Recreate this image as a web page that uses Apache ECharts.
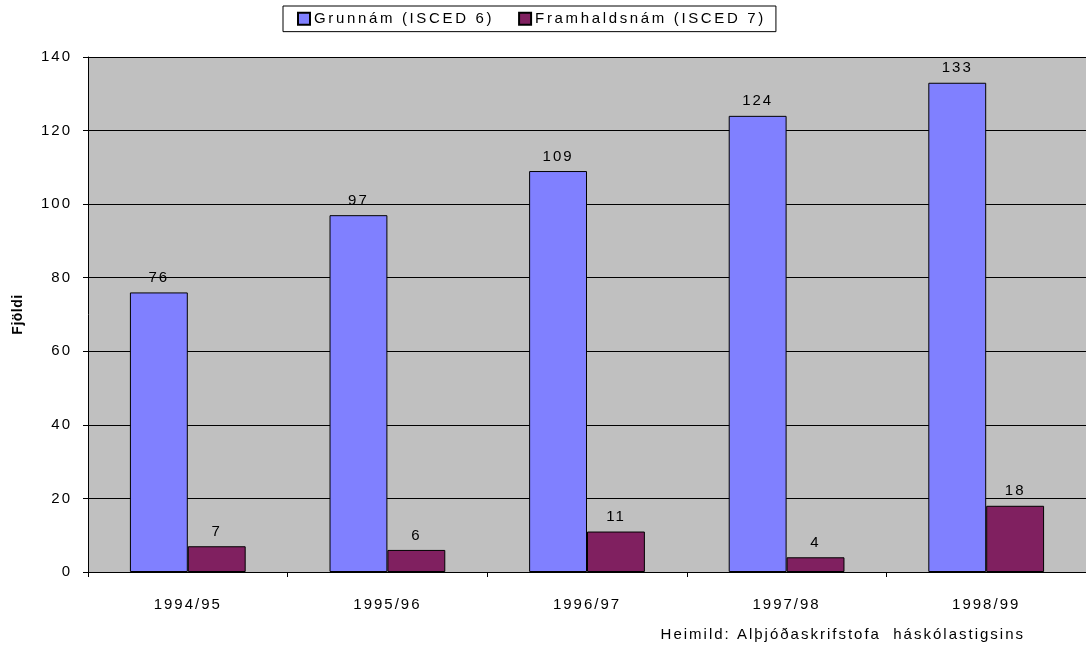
<!DOCTYPE html>
<html><head><meta charset="utf-8">
<script src="https://cdn.jsdelivr.net/npm/echarts@6/dist/echarts.min.js"></script>
<style>html,body{margin:0;padding:0;background:#fff}#c{width:1086px;height:650px}</style>
</head><body><div id="c"></div>
<script>
const categories = ['1994/95','1995/96','1996/97','1997/98','1998/99'];
const grunnam = [76, 97, 109, 124, 133];
const framhald = [7, 6, 11, 4, 18];
const seriesNames = ['Grunnám (ISCED 6)', 'Framhaldsnám (ISCED 7)'];
const yTicks = {min: 0, max: 140, interval: 20};

// Reference text is letter-spaced; apply canvas letterSpacing whenever a font is set.
(function(){
  const proto = CanvasRenderingContext2D.prototype;
  const d = Object.getOwnPropertyDescriptor(proto, 'font');
  if (d && 'letterSpacing' in proto) {
    Object.defineProperty(proto, 'font', {
      configurable: true,
      get(){ return d.get.call(this); },
      set(v){
        d.set.call(this, v);
        this.letterSpacing = /bold/.test(v) ? '0.5px' : (/LegendSp/.test(v) ? '2.65px' : '2px');
      }
    });
  }
})();

const FONT = '"Liberation Sans", Arial, sans-serif';
const LFONT = 'LegendSp, "Liberation Sans", Arial, sans-serif';
const chart = echarts.init(document.getElementById('c'), null, {renderer: 'canvas'});
const lbl = {show: true, position: 'top', color: '#000', fontSize: 15, fontFamily: FONT, distance: 6};
chart.setOption({
  animation: false,
  backgroundColor: '#fff',
  textStyle: {fontFamily: FONT},
  legend: {
    left: 283, top: 6,
    padding: [4, 10, 4, 14],
    borderColor: '#000', borderWidth: 1,
    itemWidth: 12, itemHeight: 12, itemGap: 24,
    icon: 'rect',
    textStyle: {fontSize: 15, color: '#000', fontFamily: LFONT, padding: [0, 0, 0, -1]},
    data: seriesNames
  },
  grid: {left: 88, right: 0, top: 57, bottom: 78, containLabel: false,
    show: true, backgroundColor: '#C0C0C0', borderWidth: 0},
  xAxis: {
    type: 'category', data: categories,
    axisLine: {lineStyle: {color: '#000', width: 1}},
    axisTick: {show: true, length: 5, lineStyle: {color: '#000'}},
    axisLabel: {color: '#000', fontSize: 15, margin: 24, fontFamily: FONT}
  },
  yAxis: {
    type: 'value', min: yTicks.min, max: yTicks.max, interval: yTicks.interval,
    name: 'Fjöldi', nameLocation: 'middle', nameGap: 63, nameRotate: 90,
    nameTextStyle: {fontWeight: 'bold', fontSize: 14, color: '#000', fontFamily: FONT},
    axisLine: {show: true, lineStyle: {color: '#000', width: 1}},
    axisTick: {show: true, length: 5, lineStyle: {color: '#000'}},
    axisLabel: {color: '#000', fontSize: 15, margin: 16, fontFamily: FONT},
    splitLine: {show: true, lineStyle: {color: '#000', width: 1}}
  },
  series: [
    {name: seriesNames[0], type: 'bar', data: grunnam, barGap: '0%', barCategoryGap: '42%',
     itemStyle: {color: '#8080FF', borderColor: '#000', borderWidth: 1}, label: lbl},
    {name: seriesNames[1], type: 'bar', data: framhald,
     itemStyle: {color: '#802060', borderColor: '#000', borderWidth: 1}, label: lbl}
  ],
  graphic: [{type: 'text', right: 61, top: 626,
    style: {text: 'Heimild: Alþjóðaskrifstofa  háskólastigsins', fontSize: 15, fill: '#000', fontFamily: FONT}}]
});
</script></body></html>
